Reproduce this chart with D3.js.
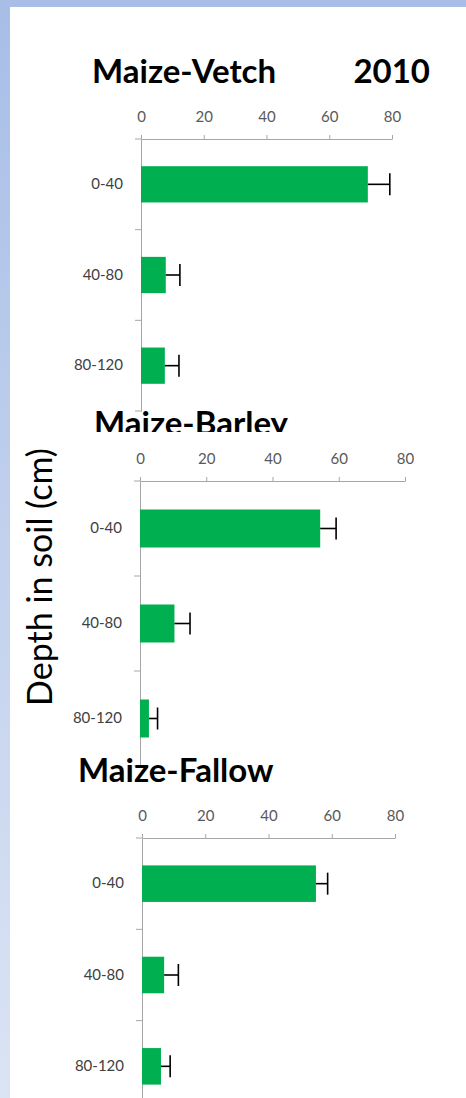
<!DOCTYPE html>
<html>
<head>
<meta charset="utf-8">
<script src="https://cdn.jsdelivr.net/npm/d3@7"></script>
<style>
  html, body { margin: 0; padding: 0; background: #fff; }
  svg { display: block; }
  .axis path, .axis line { stroke: #a6a6a6; }
  .axis text { font-family: Lato, sans-serif; font-size: 15px; fill: #595959; }
  .title { font-family: Lato, sans-serif; font-weight: bold; font-size: 33px; fill: #000; }
</style>
</head>
<body>
<svg width="466" height="1098"></svg>
<script>
var depths = ["0-40", "40-80", "80-120"];
var xTicks = [0, 20, 40, 60, 80];

var vetchMeans = [72.3, 7.9, 7.6],
    vetchErrors = [7.0, 4.5, 4.5];
var barleyMeans = [54.4, 10.4, 2.7],
    barleyErrors = [4.8, 4.7, 2.6];
var fallowMeans = [55.0, 7.0, 6.0],
    fallowErrors = [3.7, 4.5, 2.9];

var svg = d3.select("svg"),
    width = +svg.attr("width"),
    height = +svg.attr("height");

// slide background: blue frame on top and left
var grad = svg.append("defs").append("linearGradient")
    .attr("id", "frame")
    .attr("x1", 0).attr("y1", 0).attr("x2", 0).attr("y2", 1);
grad.append("stop").attr("offset", 0).attr("stop-color", "#a8bee7");
grad.append("stop").attr("offset", 1).attr("stop-color", "#dbe4f4");

svg.append("rect")
    .attr("width", width).attr("height", height)
    .attr("fill", "url(#frame)");
svg.append("rect")
    .attr("width", width).attr("height", 7)
    .attr("fill", "#a8bee7");
svg.append("rect")
    .attr("x", 10).attr("y", 7)
    .attr("width", width - 10).attr("height", height - 7)
    .attr("fill", "#fff");

var panels = [
  {title: "Maize-Vetch", means: vetchMeans, errors: vetchErrors,
   x0: 141, x1: 392, top: 139, bottom: 411, titleX: 92, titleY: 83},
  {title: "Maize-Barley", means: barleyMeans, errors: barleyErrors,
   x0: 140, x1: 405, top: 481, bottom: 766, titleX: 94, titleY: 435, clip: 432},
  {title: "Maize-Fallow", means: fallowMeans, errors: fallowErrors,
   x0: 142, x1: 395, top: 838, bottom: 1112, titleX: 78, titleY: 782}
];

panels.forEach(function(p, k) {
  var x = d3.scaleLinear()
      .domain([0, 80])
      .range([p.x0, p.x1]);

  var y = d3.scaleBand()
      .domain(depths)
      .range([p.top, p.bottom])
      .paddingInner(0.6)
      .paddingOuter(0.3);

  var g = svg.append("g");

  var title = g.append("text")
      .attr("class", "title")
      .attr("x", p.titleX)
      .attr("y", p.titleY)
      .text(p.title);

  if (p.clip) {
    svg.select("defs").append("clipPath")
        .attr("id", "clip" + k)
      .append("rect")
        .attr("x", 0).attr("y", 0)
        .attr("width", width).attr("height", p.clip);
    title.attr("clip-path", "url(#clip" + k + ")");
  }

  g.append("g")
      .attr("class", "axis axis--x")
      .attr("transform", "translate(0," + p.top + ")")
      .call(d3.axisTop(x).tickValues(xTicks).tickSize(4).tickSizeOuter(0).tickPadding(13));

  var yAxis = g.append("g")
      .attr("class", "axis axis--y")
      .attr("transform", "translate(" + p.x0 + ",0)")
      .call(d3.axisLeft(y).tickSize(0).tickPadding(18));

  yAxis.selectAll(".tick text").style("fill", "#404040");

  // ticks between categories
  var edges = depths.map(function(d) { return y(d) - y.step() * 0.3; })
      .concat([y(depths[depths.length - 1]) + y.step() * 0.7]);
  yAxis.selectAll(".edge")
      .data(edges)
    .enter().append("line")
      .attr("class", "edge")
      .attr("x1", -6).attr("x2", 0)
      .attr("y1", function(d) { return d; })
      .attr("y2", function(d) { return d; });

  g.append("g")
    .selectAll("rect")
      .data(depths)
    .enter().append("rect")
      .attr("x", x(0))
      .attr("y", function(d) { return y(d); })
      .attr("width", function(d, i) { return x(p.means[i]) - x(0); })
      .attr("height", y.bandwidth())
      .attr("fill", "#00b050");

  var err = g.append("g")
      .attr("stroke", "#000")
      .attr("stroke-width", 1.6)
    .selectAll("g")
      .data(depths)
    .enter().append("g");

  err.append("line")
      .attr("x1", function(d, i) { return x(p.means[i]); })
      .attr("x2", function(d, i) { return x(p.means[i] + p.errors[i]); })
      .attr("y1", function(d) { return y(d) + y.bandwidth() / 2; })
      .attr("y2", function(d) { return y(d) + y.bandwidth() / 2; });

  err.append("line")
      .attr("x1", function(d, i) { return x(p.means[i] + p.errors[i]); })
      .attr("x2", function(d, i) { return x(p.means[i] + p.errors[i]); })
      .attr("y1", function(d) { return y(d) + y.bandwidth() / 2 - 11; })
      .attr("y2", function(d) { return y(d) + y.bandwidth() / 2 + 11; });
});

svg.append("text")
    .attr("class", "title")
    .style("font-weight", "normal")
    .style("font-size", "34px")
    .attr("text-anchor", "middle")
    .attr("transform", "translate(52,577) rotate(-90)")
    .text("Depth in soil (cm)");

svg.append("text")
    .attr("class", "title")
    .attr("x", 430)
    .attr("y", 83)
    .attr("text-anchor", "end")
    .text("2010");
</script>
</body>
</html>
